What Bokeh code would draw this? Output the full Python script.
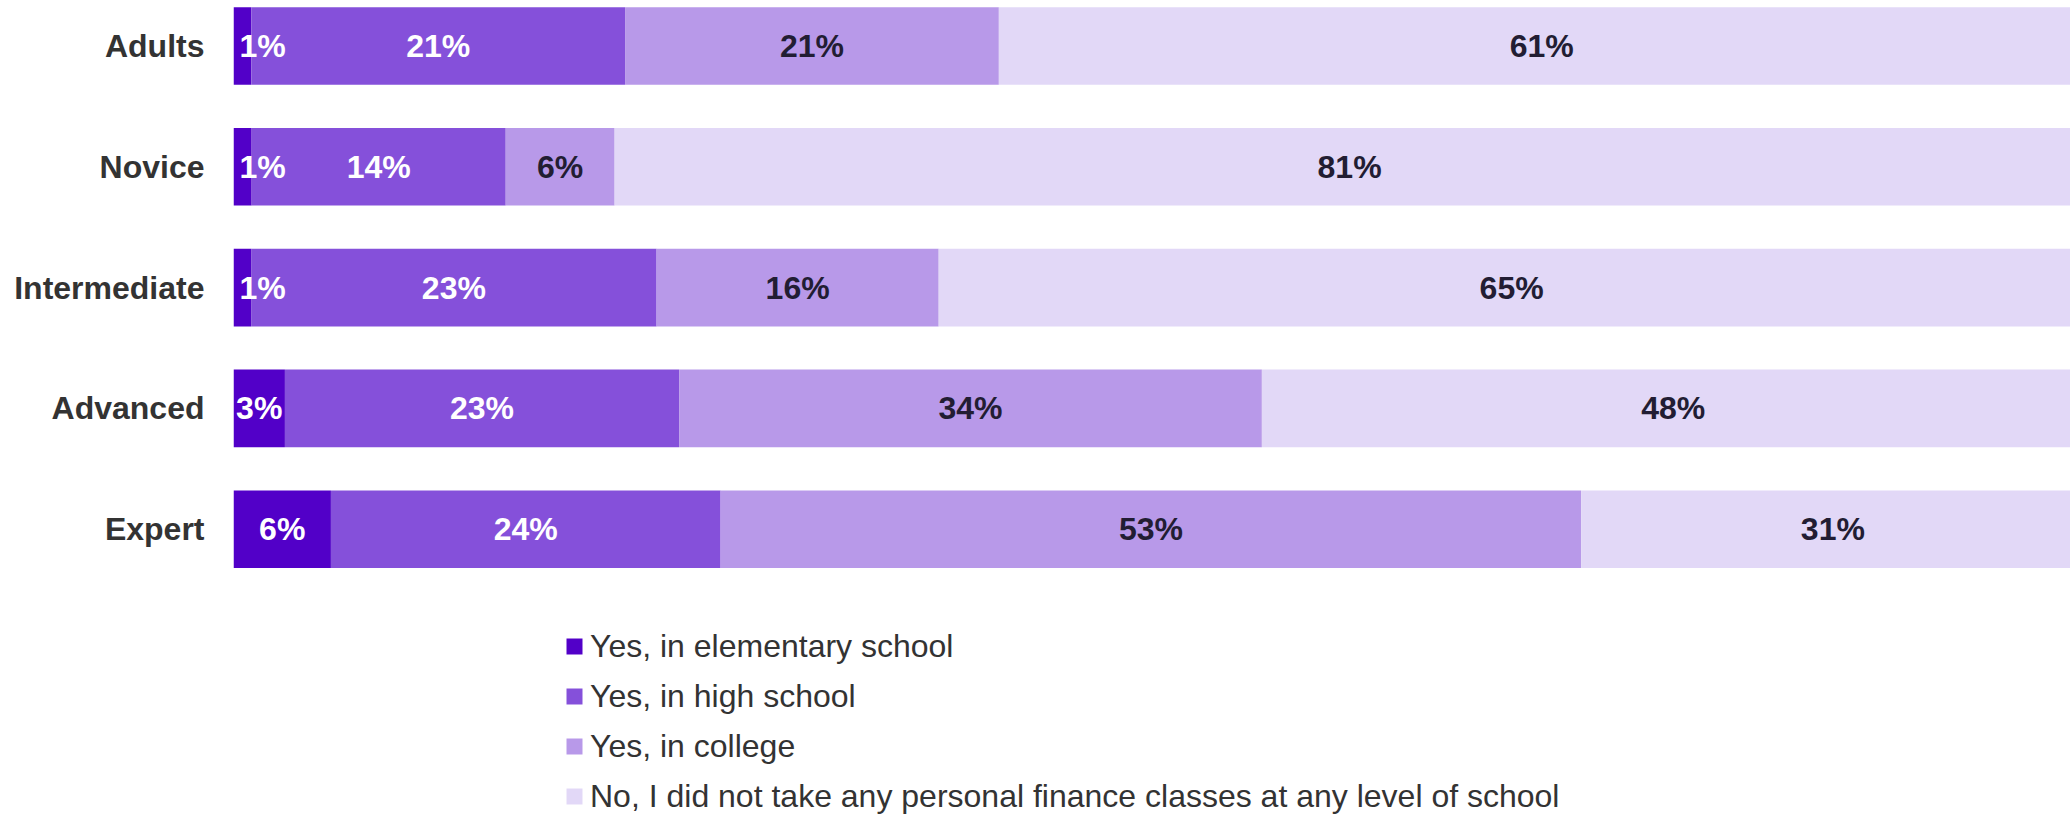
from bokeh.plotting import figure
from bokeh.models import ColumnDataSource, Range1d, FixedTicker, Legend, LegendItem
from bokeh.core.properties import value
from bokeh.embed import file_html
from bokeh.resources import INLINE

categories = ["Adults", "Novice", "Intermediate", "Advanced", "Expert"]
series_names = [
    "Yes, in elementary school",
    "Yes, in high school",
    "Yes, in college",
    "No, I did not take any personal finance classes at any level of school",
]
elementary = [1, 1, 1, 3, 6]
high_school = [21, 14, 23, 23, 24]
college = [21, 6, 16, 34, 53]
no_class = [61, 81, 65, 48, 31]

colors = ["#5200C8", "#8550DA", "#B899E9", "#E2D8F7"]
label_colors = ["#FFFFFF", "#FFFFFF", "#221D33", "#221D33"]

FONT = "Liberation Sans"
W, H = 2070, 815
LEFT = 233
FRAME_W = W - LEFT
BAND = 120.8
TOP_PX = 45.5
X_END = 0.9924  # the plot area runs a little past the right edge of the picture

series = [elementary, high_school, college, no_class]
totals = [sum(s[i] for s in series) for i in range(len(categories))]
ypos = list(range(len(categories)))

y_top = -TOP_PX / BAND
y_bottom = y_top + H / BAND

p = figure(width=W, height=H, output_backend="svg", toolbar_location=None,
           x_range=Range1d(0, X_END), y_range=Range1d(y_bottom, y_top),
           min_border_left=LEFT, min_border_right=0, min_border_top=0, min_border_bottom=0)
p.outline_line_color = None
p.grid.visible = False
p.xaxis.visible = False
p.background_fill_color = None
p.border_fill_color = "#FFFFFF"

yax = p.yaxis[0]
yax.ticker = FixedTicker(ticks=ypos)
yax.major_label_overrides = {i: c for i, c in enumerate(categories)}
yax.axis_line_color = None
yax.major_tick_line_color = None
yax.minor_tick_line_color = None
yax.major_tick_out = 0
yax.major_tick_in = 0
yax.major_label_standoff = 29
yax.major_label_text_font = FONT
yax.major_label_text_font_style = "bold"
yax.major_label_text_font_size = "32px"
yax.major_label_text_color = "#333333"

px_per_unit = FRAME_W / X_END

legend_items = []
label_sources = []
cum = [0.0] * len(categories)
for k, (vals, name) in enumerate(zip(series, series_names)):
    left = [cum[i] for i in range(len(categories))]
    right = [cum[i] + vals[i] / totals[i] for i in range(len(categories))]
    cum = right
    mid = [(l + r) / 2 for l, r in zip(left, right)]
    seg_px = [(r - l) * px_per_unit for l, r in zip(left, right)]
    xs, aligns, offs = [], [], []
    for i in range(len(categories)):
        if seg_px[i] < 48 and left[i] == 0:
            xs.append(0.0); aligns.append("left"); offs.append(6)
        else:
            xs.append(mid[i]); aligns.append("center"); offs.append(0)
    src = ColumnDataSource(dict(y=ypos, left=left, right=right, x=xs,
                                align=aligns, off=offs,
                                label=[f"{v}%" for v in vals]))
    r = p.hbar(y="y", left="left", right="right", height=0.642, source=src,
               fill_color=colors[k], line_color=None)
    legend_items.append(LegendItem(label=name, renderers=[r]))
    label_sources.append(src)

for k, src in enumerate(label_sources):
    p.text(x="x", y="y", text="label", source=src, text_align="align",
           x_offset="off", text_baseline="middle",
           text_font=value(FONT), text_font_style="bold",
           text_font_size="32px", text_color=label_colors[k])

legend = Legend(items=legend_items, location=(331, -1), orientation="vertical")
legend.label_text_font = FONT
legend.label_text_font_size = "32px"
legend.label_text_color = "#333333"
legend.glyph_width = 20
legend.glyph_height = 20
legend.label_standoff = 6
legend.label_height = 40
legend.spacing = 10
legend.padding = 0
legend.margin = 0
legend.border_line_color = None
legend.background_fill_alpha = 0
p.add_layout(legend, "center")

open("out.html", "w").write(file_html(p, INLINE))
